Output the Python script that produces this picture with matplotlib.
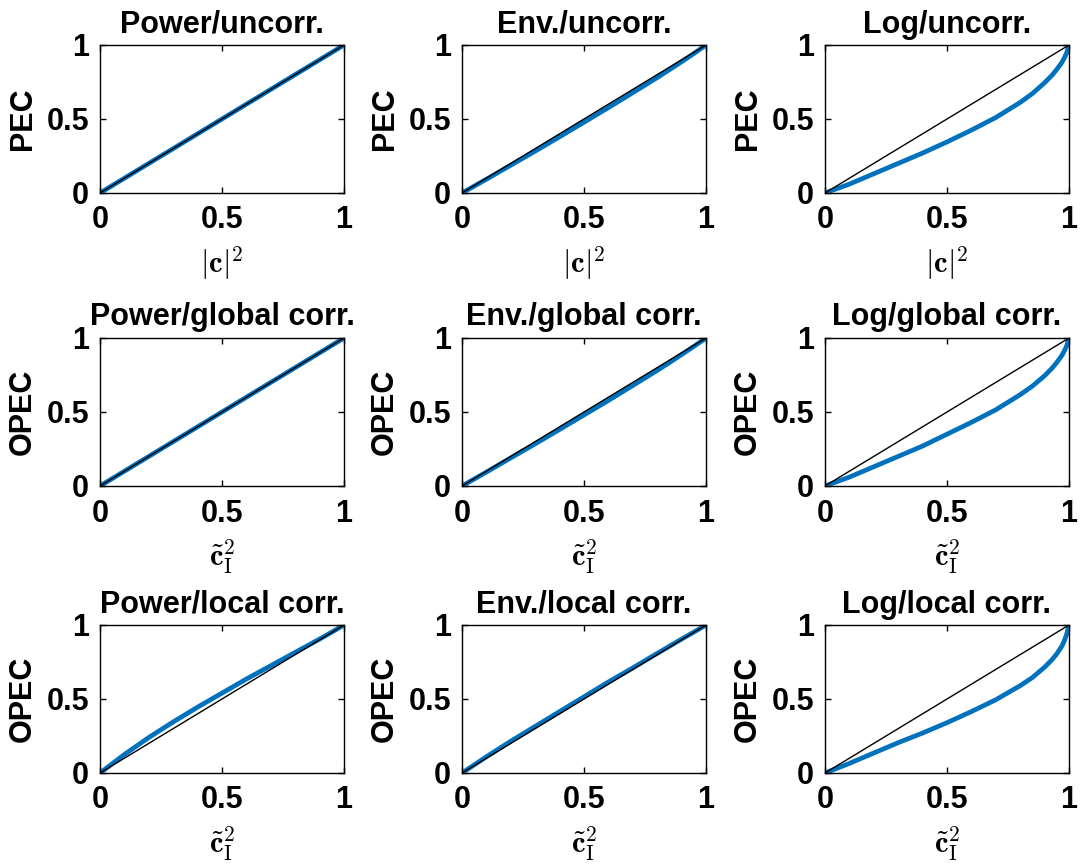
import matplotlib
matplotlib.use("Agg")
import matplotlib.pyplot as plt

plt.rcParams['font.family'] = ['Liberation Sans', 'DejaVu Sans']
plt.rcParams['font.weight'] = 'bold'
plt.rcParams['mathtext.fontset'] = 'cm'

# sampled x grid (same for every panel)
x_vals = [0, 0.1, 0.2, 0.3, 0.4, 0.5, 0.6, 0.7, 0.8, 0.85, 0.9, 0.93, 0.95, 0.97, 0.98, 0.99, 1]

# PEC / OPEC values
power_uncorr = [0, 0.1, 0.2, 0.3, 0.4, 0.5, 0.6, 0.7, 0.8, 0.85, 0.9, 0.93, 0.95, 0.97, 0.98, 0.99, 1]
env_uncorr = [0, 0.093, 0.188, 0.283, 0.38, 0.478, 0.577, 0.678, 0.78, 0.833, 0.887, 0.92, 0.942, 0.965, 0.977, 0.988, 1]
log_uncorr = [0, 0.06, 0.13, 0.2, 0.27, 0.345, 0.425, 0.51, 0.612, 0.672, 0.745, 0.795, 0.835, 0.88, 0.91, 0.945, 1]

power_global = [0, 0.1, 0.2, 0.3, 0.4, 0.5, 0.6, 0.7, 0.8, 0.85, 0.9, 0.93, 0.95, 0.97, 0.98, 0.99, 1]
env_global = [0, 0.094, 0.19, 0.285, 0.382, 0.48, 0.578, 0.679, 0.781, 0.834, 0.888, 0.921, 0.943, 0.966, 0.977, 0.988, 1]
log_global = [0, 0.06, 0.13, 0.2, 0.27, 0.35, 0.43, 0.515, 0.617, 0.675, 0.745, 0.795, 0.835, 0.88, 0.91, 0.945, 1]

power_local = [0, 0.125, 0.24, 0.345, 0.445, 0.54, 0.635, 0.725, 0.815, 0.86, 0.905, 0.933, 0.952, 0.971, 0.981, 0.99, 1]
env_local = [0, 0.11, 0.215, 0.315, 0.415, 0.515, 0.615, 0.71, 0.808, 0.856, 0.905, 0.933, 0.952, 0.971, 0.981, 0.99, 1]
log_local = [0, 0.065, 0.135, 0.205, 0.27, 0.34, 0.415, 0.495, 0.59, 0.645, 0.715, 0.765, 0.805, 0.855, 0.89, 0.935, 1]

titles = [["Power/uncorr.", "Env./uncorr.", "Log/uncorr."],
          ["Power/global corr.", "Env./global corr.", "Log/global corr."],
          ["Power/local corr.", "Env./local corr.", "Log/local corr."]]
series = [[power_uncorr, env_uncorr, log_uncorr],
          [power_global, env_global, log_global],
          [power_local, env_local, log_local]]
ylabels = ["PEC", "OPEC", "OPEC"]
xlabels = [r"$|\mathbf{c}|^2$", r"$\tilde{\mathbf{c}}_\mathrm{I}^2$", r"$\tilde{\mathbf{c}}_\mathrm{I}^2$"]

blue = "#0072BD"
W, H = 1084, 868
fig = plt.figure(figsize=(W / 100, H / 100), dpi=100)

col_left = [100, 462, 825]
row_top = [45, 338, 625]
ax_w, ax_h = 244, 148

for r in range(3):
    for c in range(3):
        rect = [col_left[c] / W, 1 - (row_top[r] + ax_h) / H, ax_w / W, ax_h / H]
        ax = fig.add_axes(rect)
        ax.plot(x_vals, series[r][c], color=blue, lw=3.4, solid_capstyle='round',
                solid_joinstyle='round')
        ax.plot([0, 1], [0, 1], color='black', lw=1.0)
        ax.set_xlim(0, 1)
        ax.set_ylim(0, 1)
        ax.set_xticks([0, 0.5, 1])
        ax.set_yticks([0, 0.5, 1])
        ax.set_xticklabels(["0", "0.5", "1"])
        ax.set_yticklabels(["0", "0.5", "1"])
        ax.tick_params(direction='in', top=True, right=True, length=4, width=1,
                       labelsize=22)
        ax.tick_params(axis='x', pad=9)
        ax.tick_params(axis='y', pad=8)
        for sp in ax.spines.values():
            sp.set_linewidth(1.0)
        ax.set_title(titles[r][c], fontsize=22, fontweight='bold', pad=9)
        ax.set_ylabel(ylabels[r], fontsize=22, fontweight='bold', labelpad=6)
        ax.set_xlabel(xlabels[r], fontsize=22, labelpad=6)

fig.savefig("out.png", dpi=100)
